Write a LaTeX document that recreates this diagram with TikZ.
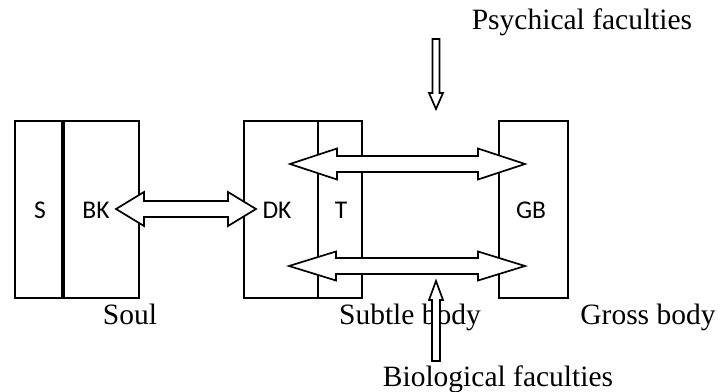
\documentclass[tikz,border=0pt]{standalone}
\usepackage{fontspec}
\setmainfont{Liberation Serif}
\newfontfamily\boxfont{Carlito}
\newcommand\dblarr[6]{% x1 x2 y headhalf headlen shafthalf
  \filldraw[blk] (#1,#3) -- (#1+#5,#3-#4) -- (#1+#5,#3-#6) -- (#2-#5,#3-#6) -- (#2-#5,#3-#4) -- (#2,#3)
   -- (#2-#5,#3+#4) -- (#2-#5,#3+#6) -- (#1+#5,#3+#6) -- (#1+#5,#3+#4) -- cycle;}
\newcommand\vertarr[7]{% x tail-y tip-y headbase-y headhalf shafthalf
  \filldraw[blk] (#1-#6,#2) -- (#1+#6,#2) -- (#1+#6,#4) -- (#1+#5,#4) -- (#1,#3) -- (#1-#5,#4) -- (#1-#6,#4) -- cycle;}
\begin{document}
\begin{tikzpicture}[x=1pt,y=-1pt,
  box/.style={draw=black,line width=2pt,inner sep=0pt,anchor=north west},
  lab/.style={font=\fontsize{29.5}{32}\selectfont,anchor=base,inner sep=0pt},
  let/.style={font=\boxfont\fontsize{25.5}{28}\selectfont,inner sep=0pt},
  blk/.style={draw=black,line width=1.7pt,fill=white,line join=miter}]
\useasboundingbox[fill=white] (0,0) rectangle (720,391);
% boxes
\node[box,minimum width=49pt,minimum height=177pt] (Sbox) at (14,120) {};
\node[box,minimum width=75pt,minimum height=177pt] (BKbox) at (63,120) {};
\draw[line width=3.2pt] (63,120) -- (63,297);
\node[box,minimum width=74pt,minimum height=177pt] (DKbox) at (243,120) {};
\node[box,minimum width=44pt,minimum height=177pt] (Tbox) at (317,120) {};
\node[box,minimum width=69pt,minimum height=177pt] (GBbox) at (498,120) {};
% letters
\node[let] (S) at (40,210) {S};
\node[let] (BK) at (96,210) {BK};
\node[let] (DK) at (277,210) {DK};
\node[let] (T) at (341,210) {T};
\node[let] (GB) at (531,210) {GB};
% double arrows
\dblarr{116}{256}{209}{17}{28}{8}
\dblarr{290}{525}{164}{15.5}{47}{8}
\dblarr{289}{525}{266}{14.5}{47}{8}
% labels
\node[lab] (psy) at (582,29) {Psychical faculties};
\node[lab] (soul) at (130,324) {Soul};
\node[lab] (sub) at (410,324) {Subtle body};
\node[lab] (gross) at (648,324) {Gross body};
\node[lab] (bio) at (498,386) {Biological faculties};
% vertical arrows
\vertarr{436}{39}{109}{93}{7}{3.5}{}
\vertarr{436}{361}{281}{300}{7}{4}{}
\end{tikzpicture}
\end{document}
